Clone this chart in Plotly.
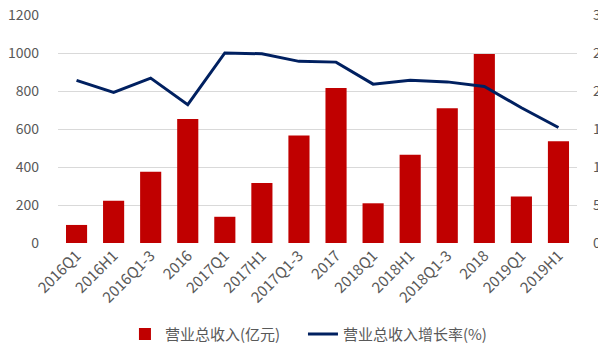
import plotly.graph_objects as go

# 营业总收入 (亿元) and its growth rate (%) by reporting period
periods = ["2016Q1", "2016H1", "2016Q1-3", "2016", "2017Q1", "2017H1", "2017Q1-3",
           "2017", "2018Q1", "2018H1", "2018Q1-3", "2018", "2019Q1", "2019H1"]
revenue = [95, 223, 375, 652, 138, 316, 566, 816, 209, 465, 709, 995, 245, 535]
growth = [21.4, 19.8, 21.7, 18.2, 25.0, 24.9, 23.9, 23.8, 20.9, 21.4, 21.2, 20.6, 17.8, 15.2]

left_ticks = [0, 200, 400, 600, 800, 1000, 1200]
right_ticks = [0, 5, 10, 15, 20, 25, 30]

font_family = "Noto Sans CJK SC, Noto Sans, sans-serif"
text_gray = "#595959"

fig = go.Figure()
fig.add_trace(go.Bar(
    x=periods, y=revenue, name="营业总收入(亿元)",
    marker=dict(color="#C00000", line=dict(width=0)),
    yaxis="y", legend="legend",
))
fig.add_trace(go.Scatter(
    x=periods, y=growth, name="营业总收入增长率(%)",
    mode="lines", line=dict(color="#002060", width=3),
    yaxis="y2", legend="legend2",
))

legend_style = dict(
    orientation="h", y=-0.40, yanchor="middle",
    font=dict(size=15, color=text_gray), itemwidth=30,
    bgcolor="rgba(0,0,0,0)",
)

fig.update_layout(
    width=598, height=347,
    margin=dict(l=58, r=21, t=15, b=104, autoexpand=False),
    paper_bgcolor="white", plot_bgcolor="white",
    font=dict(family=font_family, size=14, color=text_gray),
    bargap=0.43,
    xaxis=dict(
        tickangle=-45, showgrid=False, zeroline=False, automargin=False,
        showline=False, ticks="", tickfont=dict(size=15),
    ),
    yaxis=dict(
        range=[0, 1200], tickvals=left_ticks, showgrid=True, automargin=False,
        gridcolor="#D9D9D9", gridwidth=1, zeroline=False, showline=False,
        ticks="", ticklabelstandoff=18,
    ),
    yaxis2=dict(
        range=[0, 30], tickvals=right_ticks, overlaying="y", side="right",
        showgrid=False, zeroline=False, showline=False, ticks="",
        ticklabelstandoff=15, automargin=False,
    ),
    legend=dict(x=0.129, xanchor="left", **legend_style),
    legend2=dict(x=0.472, xanchor="left", **legend_style),
    showlegend=True,
)

fig.write_html("out.html")
